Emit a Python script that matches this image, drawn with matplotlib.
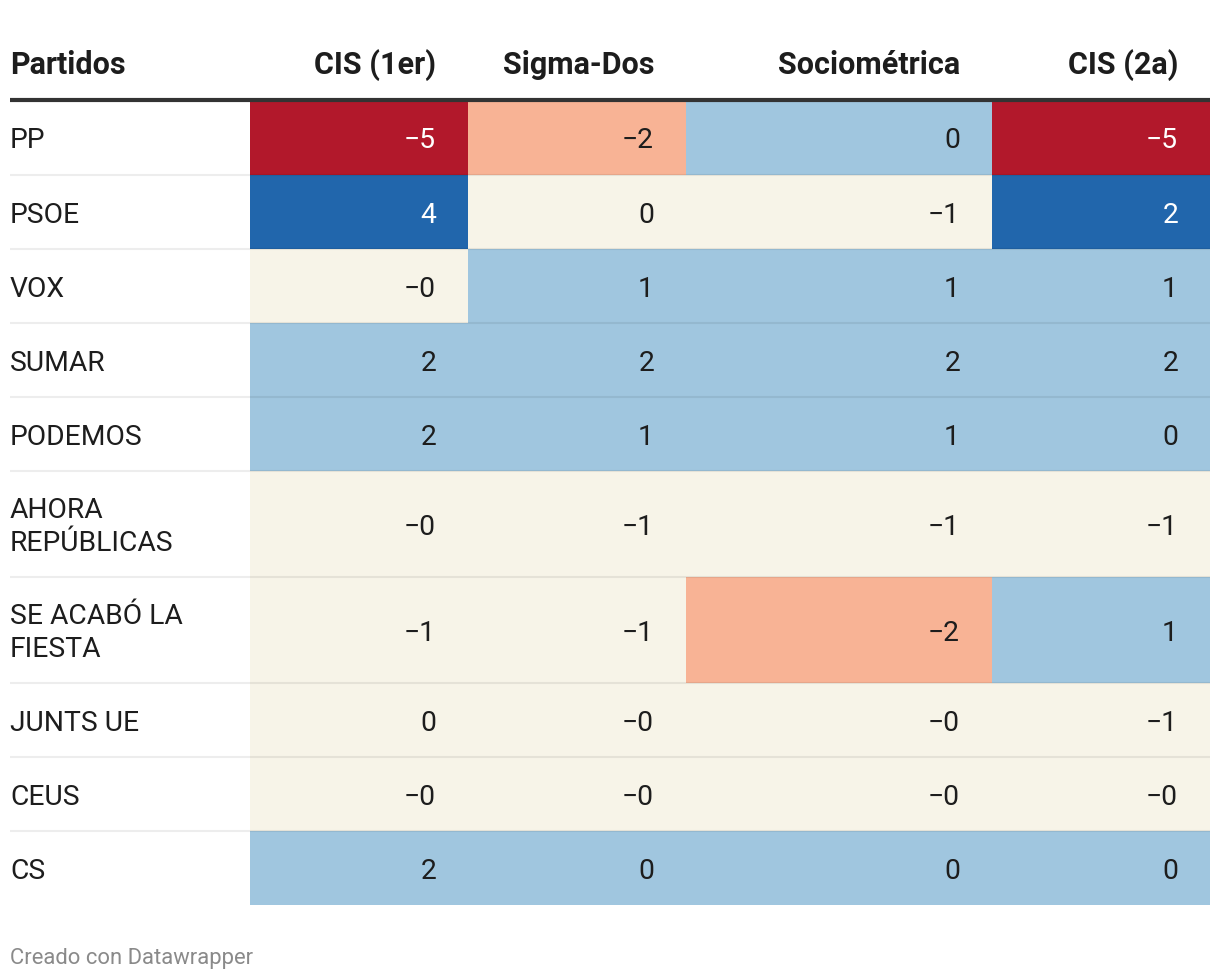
import matplotlib.pyplot as plt
from matplotlib.patches import Rectangle

plt.rcParams['font.family'] = ['Roboto', 'DejaVu Sans']

# datos (diferencias estimadas)
partidos = ['PP', 'PSOE', 'VOX', 'SUMAR', 'PODEMOS', 'AHORA\nREPÚBLICAS',
            'SE ACABÓ LA\nFIESTA', 'JUNTS UE', 'CEUS', 'CS']
columnas = ['CIS (1er)', 'Sigma-Dos', 'Sociométrica', 'CIS (2a)']
cis_1er = [-5.2, 4.1, -0.2, 2.1, 1.8, -0.3, -1.1, 0.2, -0.1, 1.6]
sigma_dos = [-2.1, 0.1, 1.1, 1.9, 1.2, -0.8, -0.9, -0.3, -0.2, 0.4]
sociometrica = [0.4, -0.9, 0.9, 2.0, 0.8, -0.7, -1.7, -0.2, -0.1, 0.4]
cis_2a = [-4.8, 2.4, 1.2, 1.8, 0.4, -0.9, 0.7, -0.6, -0.2, 0.4]
valores = [cis_1er, sigma_dos, sociometrica, cis_2a]


def color_celda(v):
    # escala por tramos
    if v < -3:
        return '#b2182b', 'white'
    if v < -1.5:
        return '#f8b395', '#1d1d1d'
    if v < 0.3:
        return '#f7f4e8', '#1d1d1d'
    if v < 2.3:
        return '#a0c6df', '#1d1d1d'
    return '#2166ac', 'white'


def fmt(v):
    return f"{v:.0f}".replace('-', '\u2212')


W, H = 1220, 980
fig = plt.figure(figsize=(W / 100, H / 100), dpi=100)
ax = fig.add_axes([0, 0, 1, 1])
ax.set_xlim(0, W)
ax.set_ylim(H, 0)
ax.axis('off')

col_left = [250, 468, 686, 992]
col_right = [468, 686, 992, 1210]
pad = 32
tc = '#1d1d1d'
fs = 20.3

# cabecera
ax.text(10, 65, 'Partidos', ha='left', va='center', fontsize=22,
        fontweight='bold', color=tc)
for j, c in enumerate(columnas):
    ax.text(col_right[j] - pad, 65, c, ha='right', va='center',
            fontsize=22, fontweight='bold', color=tc)

# filas
y = 101
for i, p in enumerate(partidos):
    n = p.count('\n') + 1
    h = 74 + 32 * (n - 1)
    for j in range(len(columnas)):
        v = valores[j][i]
        bg, fg = color_celda(v)
        ax.add_patch(Rectangle((col_left[j], y), col_right[j] - col_left[j], h,
                               facecolor=bg, edgecolor='none', zorder=1))
        ax.text(col_right[j] - pad, y + h / 2 + 3, fmt(v), ha='right',
                va='center', fontsize=fs, color=fg, zorder=3)
    ax.text(10, y + h / 2 + 3, p, ha='left', va='center', fontsize=fs,
            color=tc, linespacing=1.3, zorder=3)
    if i < len(partidos) - 1:
        ax.plot([10, 1210], [y + h, y + h], color='black', alpha=0.07,
                lw=1.5, solid_capstyle='butt', zorder=2)
    y += h

# linea gruesa bajo la cabecera
ax.plot([10, 1210], [100, 100], color='#333333', lw=3,
        solid_capstyle='butt', zorder=4)

ax.text(10, 958, 'Creado con Datawrapper', ha='left', va='center',
        fontsize=15.8, color='#8a8a8a')

fig.savefig('out.png', dpi=100, facecolor='white')
